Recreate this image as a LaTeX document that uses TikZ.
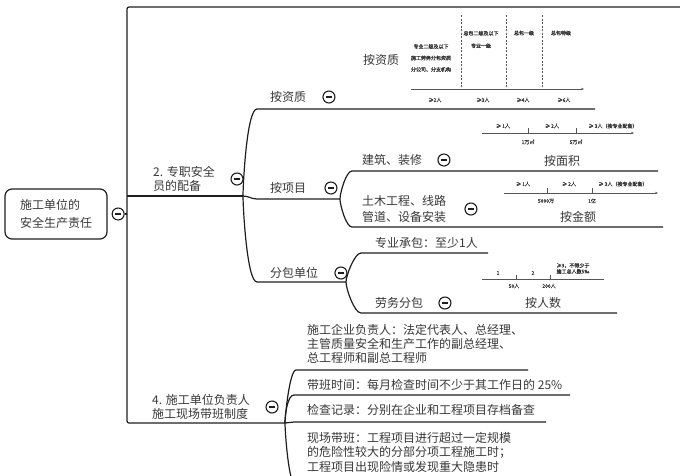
\documentclass[tikz,border=0pt]{standalone}
\usepackage{fontspec}
\setmainfont{Noto Sans CJK SC}
\newfontfamily\chartfont[FakeBold=1.2]{Noto Sans CJK SC}
\usetikzlibrary{arrows.meta, positioning, calc}
\definecolor{mapink}{RGB}{30,30,30}
\definecolor{maptext}{RGB}{55,55,55}
\definecolor{mapaxis}{RGB}{85,85,85}
\tikzset{
  %% ---- boxes and labels ----
  rootbox/.style = {rectangle, rounded corners=7pt,
                    draw=mapink, line width=1.2pt,
                    minimum width=102pt, minimum height=50pt, align=left,
                    text=maptext, font=\fontsize{12}{18}\selectfont},
  topic/.style   = {anchor=west, inner sep=0pt, text=maptext, align=left,
                    font=\fontsize{12}{#1}\selectfont},
  topic/.default = 14pt,
  fold/.style    = {circle, draw=mapink, line width=1.1pt, fill=white,
                    minimum size=12pt, inner sep=0pt,
                    path picture={\draw[line width=1.1pt]
                      ([xshift=-3pt]path picture bounding box.center) --
                      ([xshift=3pt]path picture bounding box.center);}},
  chart/.style   = {inner sep=0pt, text=black!80, align=center,
                    font=\chartfont\fontsize{5}{#1}\selectfont},
  chart/.default = 6pt,
  %% ---- lines ----
  link/.style     = {draw=mapink, line width=1.2pt},
  axisline/.style = {-{Stealth[length=3pt, width=2.4pt]}, draw=mapaxis, line width=0.6pt},
  divider/.style  = {draw=mapaxis, line width=0.6pt, dash pattern=on 2pt off 1.5pt},
  tickmark/.style = {draw=mapaxis, line width=0.6pt},
}
\begin{document}
\begin{tikzpicture}[x=1pt, y=1pt]
\useasboundingbox (0,0) rectangle (680,-475);

% root and trunk
\node[rootbox] (root) at (56,-214) {施工单位的\\安全生产责任};
\node[fold, right=4pt of root] (rootf) {};
\coordinate (hub) at (127,-214);
\coordinate (top-e) at (680,-7);

\node[topic=13.5pt] (sp) at (153,-179) {2. 专职安全\\员的配备};
\node[fold, right=15.5pt of sp] (spf) {};
\coordinate (sp-j) at (243,-196);

\node[topic=13.5pt] (db) at (152,-407) {4. 施工单位负责人\\施工现场带班制度};
\node[fold, right=15.5pt of db] (dbf) {};
\coordinate (db-j) at (285,-423);

\draw[link] (rootf) -- (hub);
\draw[link, rounded corners=2pt] (hub) |- (top-e);
\draw[link, rounded corners=2pt] (hub) |- (db-j);
\draw[link] (hub |- sp-j) -- (sp-j);

% 2. sub topics
\node[topic] (zz) at (270,-97) {按资质};
\node[fold, right=16pt of zz] (zzf) {};
\coordinate (zz-s) at (257,-109);
\coordinate (zz-e) at (595,-109);

\node[topic] (xm) at (270,-188) {按项目};
\node[fold, right=18pt of xm] (xmf) {};
\coordinate (xm-s) at (257,-199);
\coordinate (xm-j) at (340,-199);

\node[topic] (fb) at (270,-273) {分包单位};
\node[fold, right=16pt of fb] (fbf) {};
\coordinate (fb-s) at (257,-282);
\coordinate (fb-j) at (346,-282);

\draw[link] (sp-j) to[out=90, in=180, looseness=.3] (zz-s) -- (zz-e);
\draw[link] (sp-j) to[out=0, in=180] (xm-s) -- (xm-j);
\draw[link] (sp-j) to[out=-90, in=180, looseness=.3] (fb-s) -- (fb-j);

% by qualification
\node[topic, anchor=center] (zz-t) at (381,-60) {按资质};
\draw[axisline] (411,-89) -- (584,-89);
\foreach \x in {461,506,542}
  \draw[divider] (\x,-15) -- (\x,-89);
\node[chart=11.5pt] (q1) at (431,-58) {专业二级及以下\\施工劳务分包资质\\分公司、分支机构};
\node[chart=12.5pt] (q2) at (481,-39.5) {总包二级及以下\\专业一级};
\node[chart] (q3) at (524,-33) {总包一级};
\node[chart] (q4) at (561,-33) {总包特级};
\node[chart] (q1n) at (435,-100) {≥2人};
\node[chart] (q2n) at (483,-100) {≥3人};
\node[chart] (q3n) at (523,-100) {≥4人};
\node[chart] (q4n) at (564,-100) {≥6人};

% by project
\node[topic] (jz) at (362,-160) {建筑、装修};
\node[fold, right=15pt of jz] (jzf) {};
\coordinate (jz-s) at (352,-171);
\coordinate (jz-e) at (658,-171);

\node[topic=16pt] (tm) at (362,-209) {土木工程、线路\\管道、设备安装};
\node[fold, right=18pt of tm] (tmf) {};
\coordinate (tm-s) at (352,-227);
\coordinate (tm-e) at (663,-227);

\draw[link] (xm-j) to[out=90, in=180, looseness=.5] (jz-s) -- (jz-e);
\draw[link] (xm-j) to[out=-90, in=180, looseness=.5] (tm-s) -- (tm-e);

% by area
\draw[axisline] (482,-133) -- (634,-133);
\draw[tickmark] (528,-133) -- (528,-128);
\draw[tickmark] (576,-133) -- (576,-128);
\node[chart] (a1) at (503,-126) {≥ 1人};
\node[chart] (a2) at (552,-126) {≥ 2人};
\node[chart] (a3) at (613,-126) {≥ 3人（按专业配备）};
\node[chart] (a1n) at (528,-142) {1万㎡};
\node[chart] (a2n) at (576,-142) {5万㎡};
\node[topic, anchor=center] (mj) at (562,-161) {按面积};

% by amount
\draw[axisline] (504,-193) -- (658,-193);
\draw[tickmark] (547,-193) -- (547,-188);
\draw[tickmark] (592,-193) -- (592,-188);
\node[chart] (m1) at (523,-184) {≥ 1人};
\node[chart] (m2) at (569,-184) {≥ 2人};
\node[chart] (m3) at (623,-184) {≥ 3人（按专业配备）};
\node[chart] (m1n) at (546,-201) {5000万};
\node[chart] (m2n) at (592,-201) {1亿};
\node[topic, anchor=center] (je) at (578,-217) {按金额};

% subcontracting
\node[topic] (zy) at (375,-243) {专业承包：至少1人};
\coordinate (zy-s) at (361,-253);
\coordinate (zy-e) at (488,-253);

\node[topic] (lw) at (375,-303) {劳务分包};
\node[fold, right=15pt of lw] (lwf) {};
\coordinate (lw-s) at (361,-313);
\coordinate (lw-e) at (617,-313);

\draw[link] (fb-j) to[out=90, in=180, looseness=.5] (zy-s) -- (zy-e);
\draw[link] (fb-j) to[out=-90, in=180, looseness=.5] (lw-s) -- (lw-e);

% by headcount
\draw[tickmark] (482,-279) -- (604,-279);
\draw[tickmark] (516,-279) -- (516,-275);
\draw[tickmark] (550,-279) -- (550,-275);
\node[chart] (p1) at (498,-273) {1};
\node[chart] (p2) at (533,-273) {2};
\node[chart] (p3) at (573,-268.5) {≥3，不得少于\\施工总人数5‰};
\node[chart] (p1n) at (514,-286) {50人};
\node[chart] (p2n) at (549,-286) {200人};
\node[topic, anchor=center] (rs) at (543,-303) {按人数};

% 4. sub topics
\node[topic=14pt] (fz) at (307,-344) {施工企业负责人：法定代表人、总经理、\\主管质量安全和生产工作的副总经理、\\总工程师和副总工程师};
\coordinate (fz-s) at (296,-370);
\coordinate (fz-e) at (528,-370);

\node[topic] (sj) at (307,-385) {带班时间：每月检查时间不少于其工作日的 25\%};
\coordinate (sj-s) at (294,-395);
\coordinate (sj-e) at (570,-395);

\node[topic] (jl) at (307,-410) {检查记录：分别在企业和工程项目存档备查};
\coordinate (jl-s) at (294,-422);
\coordinate (jl-e) at (546,-422);

\node[topic=14.5pt] (xc) at (307,-452) {现场带班：工程项目进行超过一定规模\\的危险性较大的分部分项工程施工时；\\工程项目出现险情或发现重大隐患时};
\coordinate (xc-s) at (296,-486);
\coordinate (xc-e) at (560,-486);

\draw[link] (db-j) to[out=90, in=180, looseness=.3] (fz-s) -- (fz-e);
\draw[link] (db-j) to[out=90, in=180, looseness=.6] (sj-s) -- (sj-e);
\draw[link] (db-j) -- (jl-s) -- (jl-e);
\draw[link] (db-j) to[out=-90, in=180, looseness=.3] (xc-s) -- (xc-e);

\end{tikzpicture}
\end{document}
